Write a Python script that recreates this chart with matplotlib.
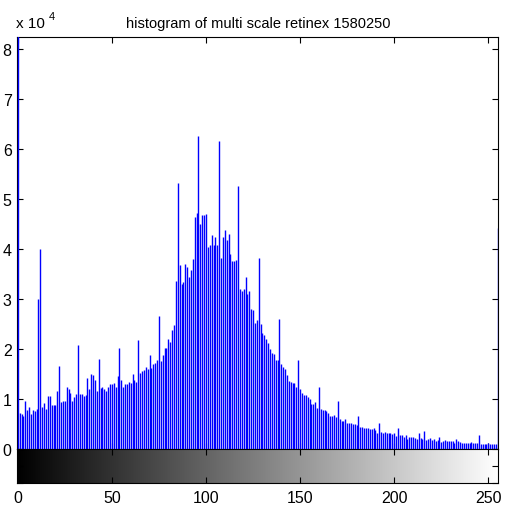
import matplotlib
matplotlib.use('Agg')
import matplotlib.pyplot as plt
import numpy as np

plt.rcParams['font.family'] = ['Liberation Sans', 'DejaVu Sans']

# bin counts, in units of 10^4 (bins 0..255)
counts = [
    9.50,
    0.72, 0.70, 0.67, 0.95, 0.77, 0.83, 0.70, 0.78, 0.75, 0.80,
    3.00, 4.00, 0.83, 0.92, 0.80, 1.06, 1.06, 0.88, 0.88, 0.88,
    1.16, 1.66, 0.93, 0.96, 0.96, 1.24, 1.19, 1.11, 0.96, 1.04,
    1.09, 2.08, 1.09, 1.09, 1.06, 1.08, 1.42, 1.19, 1.50, 1.47,
    1.37, 1.16, 1.79, 1.21, 1.24, 1.19, 1.15, 1.24, 1.29,
    1.30, 1.32, 1.23, 1.45, 2.02, 1.37, 1.23, 1.29, 1.29, 1.34,
    1.32, 1.49, 1.37, 1.33, 2.18, 1.52, 1.55, 1.58, 1.63, 1.60,
    1.87, 1.61, 1.69, 1.72, 1.77, 2.65, 1.76, 1.87, 2.02, 2.02,
    2.19, 2.13, 2.37, 2.47, 3.35, 5.31, 3.67, 3.30, 3.33, 3.70,
    3.63, 3.43, 3.57, 3.80, 4.63, 4.71, 6.25, 4.50, 4.68, 4.67,
    4.69, 4.03, 4.08, 4.27, 4.07, 4.23, 4.08, 6.15, 3.82, 4.23,
    4.37, 4.18, 4.30, 3.90, 3.75, 3.75, 3.77, 5.25, 3.20, 3.15,
    3.20, 3.43, 3.10, 3.15, 2.79, 2.77, 2.52, 2.58, 3.82, 2.50,
    2.31, 2.28, 2.19, 2.12, 2.00, 1.92, 1.90, 1.77, 1.77, 2.60,
    1.69, 1.63, 1.60, 1.48, 1.35, 1.33, 1.32, 1.32, 1.23, 1.77,
    1.20, 1.11, 1.08, 1.08, 1.03, 1.00, 0.90, 0.90, 0.93, 0.82,
    1.24, 0.80, 0.77, 0.78, 0.75, 0.72, 0.67, 0.67, 0.69, 0.65,
    0.95, 0.61, 0.57, 0.57, 0.61, 0.53, 0.53, 0.53, 0.50, 0.50,
    0.48, 0.67, 0.45, 0.45, 0.43, 0.43, 0.43, 0.40, 0.40, 0.43,
    0.38, 0.32, 0.53, 0.35, 0.33, 0.35, 0.32, 0.32, 0.32, 0.30,
    0.33, 0.27, 0.43, 0.28, 0.28, 0.25, 0.28, 0.21, 0.25, 0.25,
    0.25, 0.23, 0.21, 0.33, 0.22, 0.20, 0.36, 0.19, 0.20, 0.22,
    0.18, 0.20, 0.17, 0.18, 0.25, 0.15, 0.17, 0.19, 0.17, 0.17,
    0.17, 0.16, 0.13, 0.20, 0.16, 0.15, 0.13, 0.13, 0.12, 0.12,
    0.13, 0.15, 0.12, 0.12, 0.12, 0.28, 0.10, 0.10, 0.10, 0.10,
    0.12, 0.10, 0.10, 0.10, 0.10, 4.42,
]
bins = np.arange(len(counts))
y_ticks = [0, 1, 2, 3, 4, 5, 6, 7, 8]
x_ticks = [0, 50, 100, 150, 200, 250]
title = 'histogram of multi scale retinex 1580250'

fig = plt.figure(figsize=(5.09, 5.10), dpi=100)
ax = fig.add_axes([0.0338, 0.1176, 0.9452, 0.8084])
cb = fig.add_axes([0.0338, 0.0510, 0.9452, 0.0667])

# stems drawn above the frame so the edge bins show on the spines
ax.vlines(bins, 0, counts, colors='#0000ff', lw=1.0, zorder=3)
ax.set_xlim(-0.3, 255.3)
ax.set_ylim(0, 8.24)
ax.set_yticks(y_ticks)
ax.set_xticks(x_ticks)
ax.tick_params(direction='in', top=True, right=True, bottom=True, length=4,
               width=0.8, labelbottom=False, labelsize=11.5, pad=4)
for s in ax.spines.values():
    s.set_linewidth(0.8)
ax.set_title(title, fontsize=10.5, pad=7)

# gray ramp under the histogram
ramp = np.arange(256)[None, :]
cb.imshow(ramp, cmap='gray', aspect='auto', extent=(-0.5, 255.5, 0, 1))
cb.set_xlim(-0.3, 255.3)
cb.set_ylim(0, 1)
cb.set_xticks(x_ticks)
cb.set_yticks([0, 0.5, 1])
cb.tick_params(direction='in', top=True, bottom=True, left=True, right=True,
               length=4, width=0.8, labelleft=False, labelsize=11.5, pad=5)
for s in cb.spines.values():
    s.set_linewidth(0.8)

fig.text(16.5 / 509, 1 - 28.5 / 510, 'x 10', fontsize=11, ha='left', va='baseline')
fig.text(48.5 / 509, 1 - 19.5 / 510, '4', fontsize=8, ha='left', va='baseline')

fig.savefig('out.png', dpi=100)
